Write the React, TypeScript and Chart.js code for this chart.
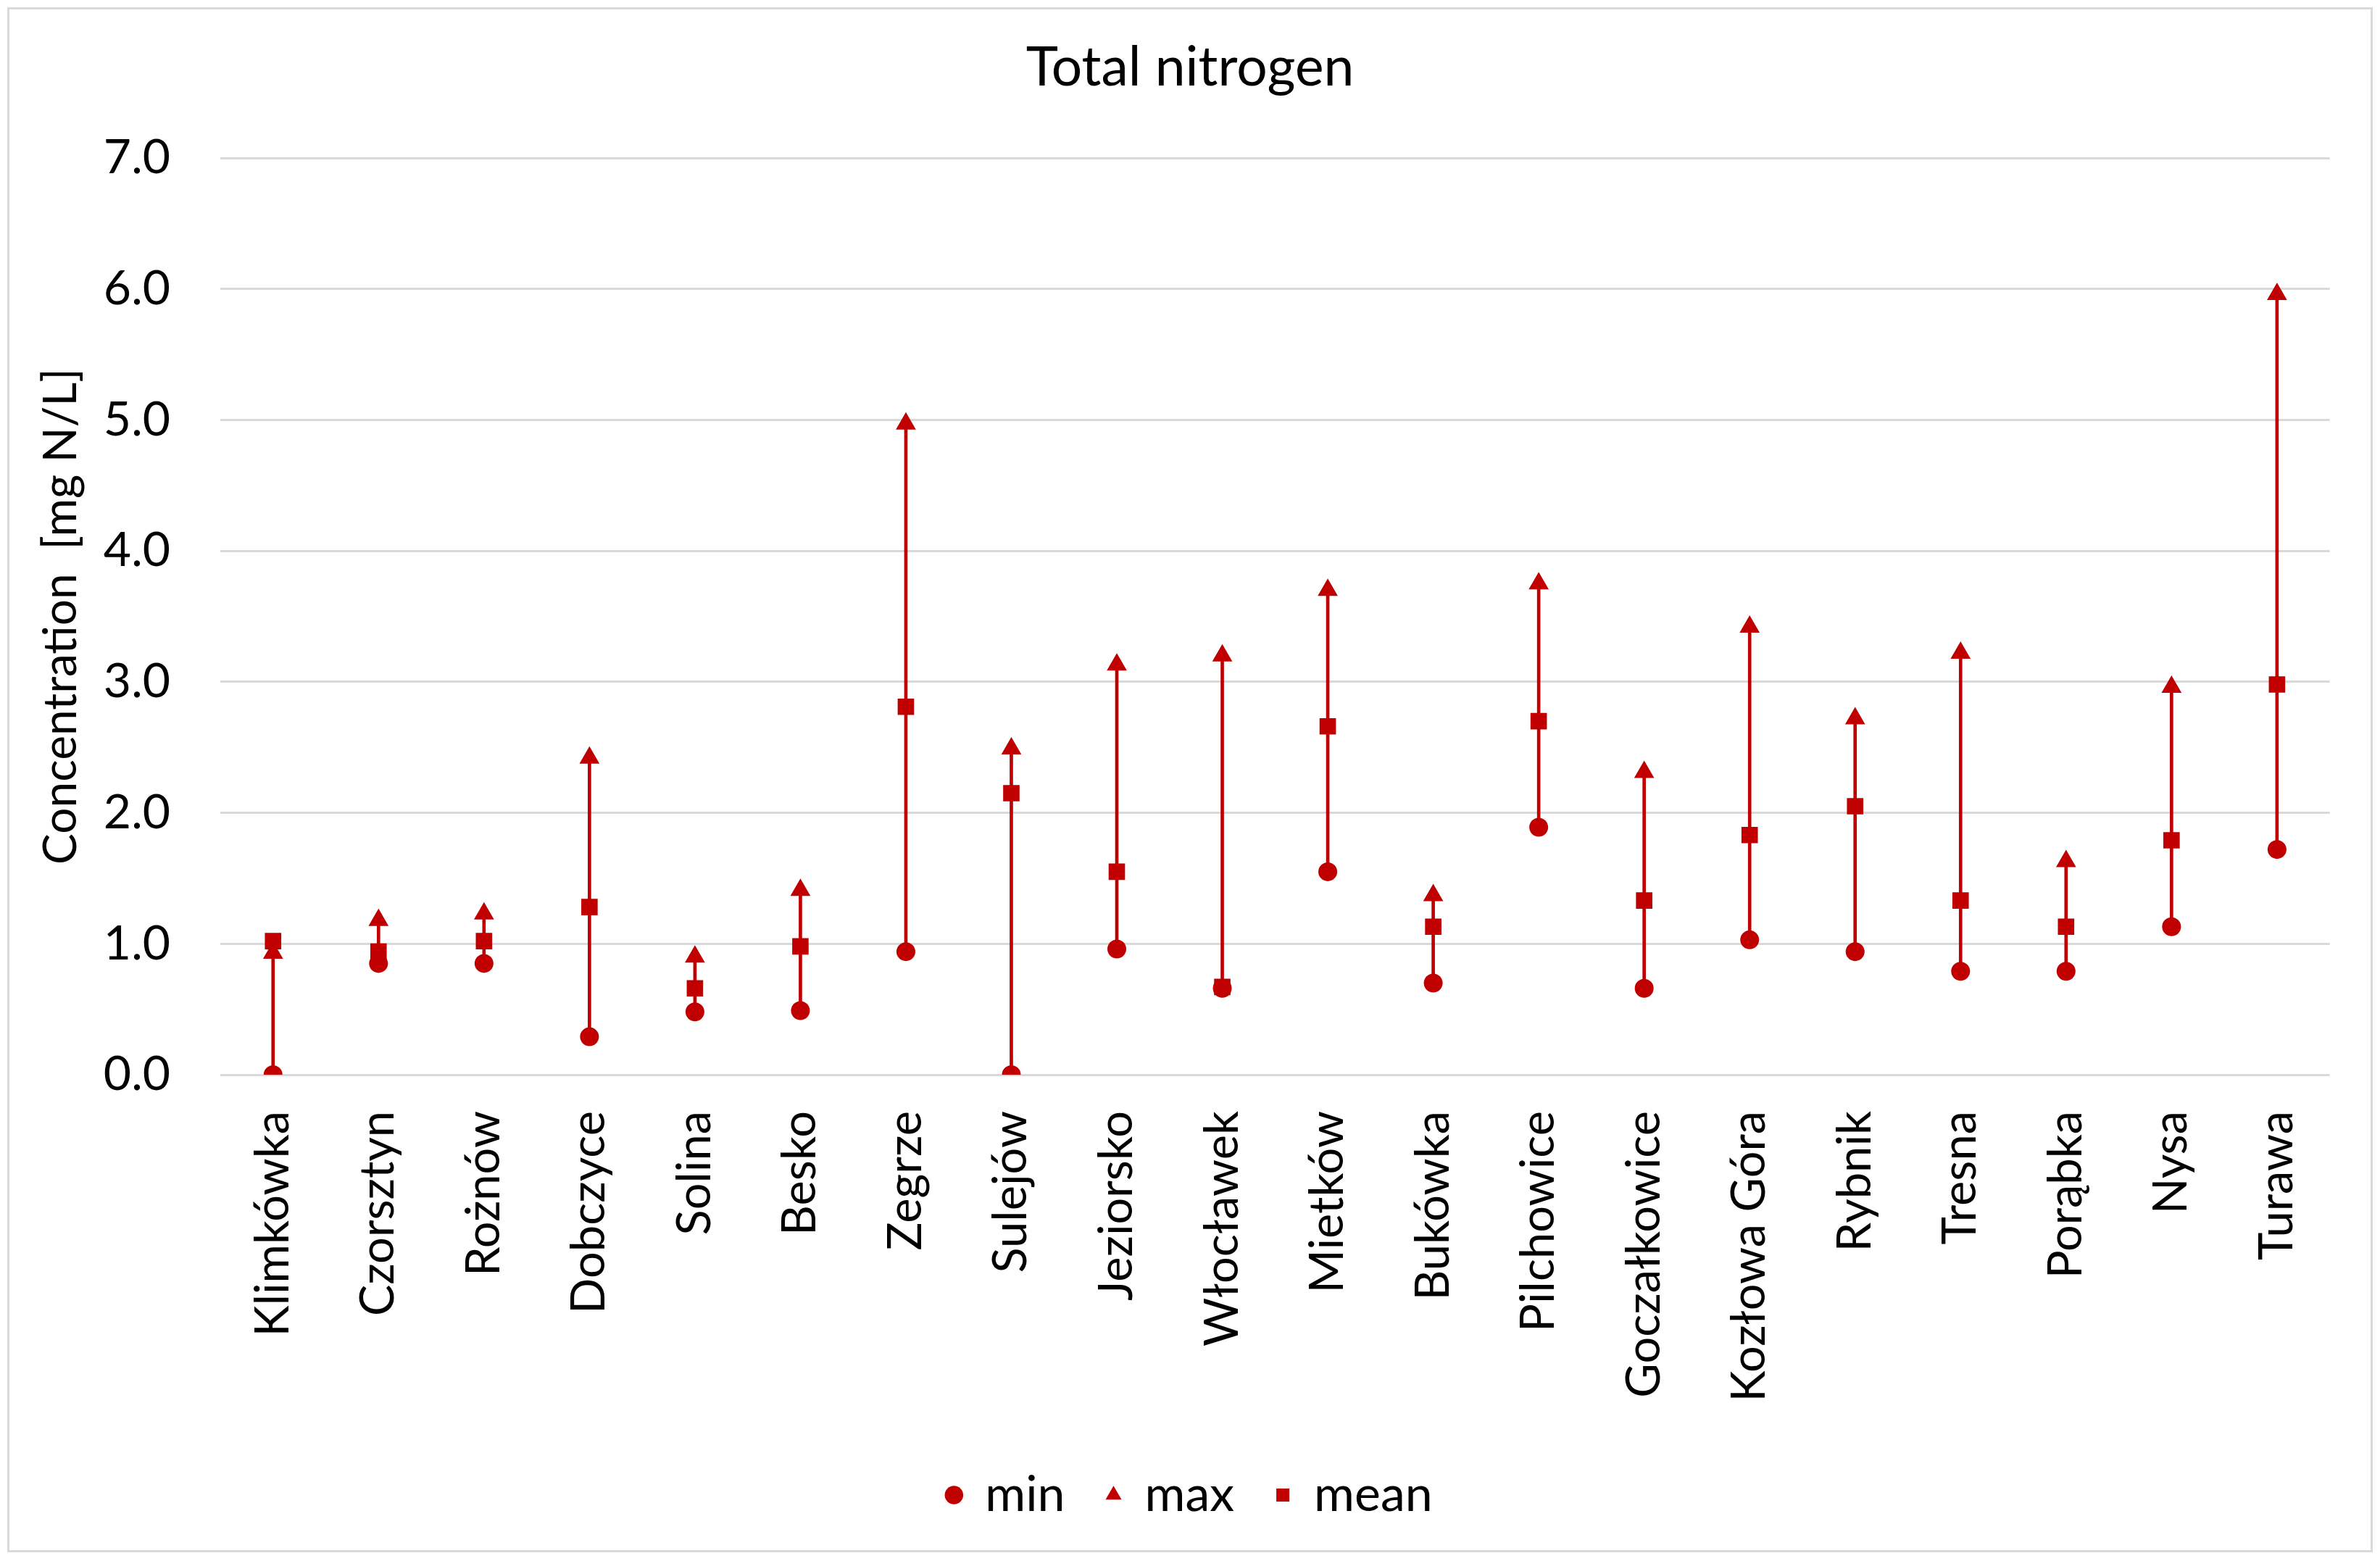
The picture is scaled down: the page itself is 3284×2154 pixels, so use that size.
import React, { useEffect, useRef } from "react";
import { Chart, registerables } from "chart.js";

Chart.register(...registerables);

const categories = [
  "Klimkówka", "Czorsztyn", "Rożnów", "Dobczyce", "Solina", "Besko", "Zegrze",
  "Sulejów", "Jeziorsko", "Włocławek", "Mietków", "Bukówka", "Pilchowice",
  "Goczałkowice", "Kozłowa Góra", "Rybnik", "Tresna", "Porąbka", "Nysa", "Turawa",
];
const minVals = [0.0, 0.85, 0.85, 0.29, 0.48, 0.49, 0.94, 0.0, 0.96, 0.66, 1.55, 0.70, 1.89, 0.66, 1.03, 0.94, 0.79, 0.79, 1.13, 1.72];
const maxVals = [0.93, 1.18, 1.23, 2.42, 0.90, 1.41, 4.97, 2.49, 3.13, 3.20, 3.70, 1.37, 3.75, 2.31, 3.42, 2.72, 3.22, 1.63, 2.96, 5.96];
const meanVals = [1.02, 0.94, 1.02, 1.28, 0.66, 0.98, 2.81, 2.15, 1.55, 0.67, 2.66, 1.13, 2.70, 1.33, 1.83, 2.05, 1.33, 1.13, 1.79, 2.98];
const yTicks = [0, 1, 2, 3, 4, 5, 6, 7];

const RED = "#c00000";
const GRID = "#d9d9d9";
const FONT = "Lato";

export default function App() {
  const ref = useRef<HTMLCanvasElement | null>(null);

  useEffect(() => {
    if (!ref.current) return;
    Chart.defaults.font.family = FONT;
    Chart.defaults.color = "#000";
    const chart = new Chart(ref.current, {
      type: "bar",
      data: {
        labels: categories,
        datasets: [
          {
            type: "line",
            label: "min",
            data: minVals,
            showLine: false,
            pointStyle: "circle",
            pointRadius: 13,
            pointBackgroundColor: RED,
            pointBorderColor: RED,
            pointBorderWidth: 0,
            backgroundColor: RED,
            borderColor: RED,
            order: 1,
          },
          {
            type: "line",
            label: "max",
            data: maxVals,
            showLine: false,
            pointStyle: "triangle",
            pointRadius: 16,
            pointBackgroundColor: RED,
            pointBorderColor: RED,
            pointBorderWidth: 0,
            backgroundColor: RED,
            borderColor: RED,
            order: 1,
          },
          {
            type: "line",
            label: "mean",
            data: meanVals,
            showLine: false,
            pointStyle: "rect",
            pointRadius: 16,
            pointBackgroundColor: RED,
            pointBorderColor: RED,
            pointBorderWidth: 0,
            backgroundColor: RED,
            borderColor: RED,
            order: 1,
          },
          {
            type: "bar",
            label: "range",
            data: categories.map((_, i) => [minVals[i], maxVals[i]]) as any,
            backgroundColor: RED,
            borderWidth: 0,
            barThickness: 4,
            order: 10,
          },
        ],
      },
      options: {
        animation: false,
        responsive: true,
        maintainAspectRatio: false,
        layout: { padding: { left: 0, right: 0, top: 0, bottom: 32 } },
        plugins: {
          tooltip: { enabled: false },
          title: {
            display: true,
            text: "Total nitrogen",
            font: { size: 75, weight: "normal", family: FONT },
            color: "#000",
            padding: { top: 36, bottom: 79 },
          },
          legend: {
            position: "bottom",
            labels: {
              usePointStyle: true,
              boxWidth: 18,
              boxHeight: 18,
              padding: 58,
              font: { size: 68, family: FONT },
              color: "#000",
              filter: (item) => item.text !== "range",
            },
          },
        },
        scales: {
          x: {
            type: "category",
            offset: true,
            grid: { display: false, drawTicks: false },
            border: { display: false },
            ticks: {
              autoSkip: false,
              minRotation: 90,
              maxRotation: 90,
              padding: 50,
              font: { size: 65, family: FONT },
              color: "#000",
            },
            afterFit: (scale: any) => {
              scale.height = 488;
            },
          },
          y: {
            type: "linear",
            position: "left",
            min: 0,
            max: 7,
            afterBuildTicks: (scale: any) => {
              scale.ticks = yTicks.map((v) => ({ value: v }));
            },
            grid: { color: GRID, lineWidth: 3, drawTicks: false },
            border: { display: false },
            ticks: {
              padding: 69,
              font: { size: 66, family: FONT },
              color: "#000",
              callback: (v: any) => Number(v).toFixed(1),
            },
            title: {
              display: true,
              text: "Concentration  [mg N/L]",
              font: { size: 64, family: FONT },
              color: "#000",
              padding: { top: 33, bottom: 0 },
            },
            afterFit: (scale: any) => {
              scale.width = 291;
            },
          },
          yRight: {
            type: "linear",
            position: "right",
            display: true,
            grid: { display: false, drawTicks: false },
            border: { display: false },
            ticks: { display: false },
            afterFit: (scale: any) => {
              scale.width = 45;
            },
          },
        },
      },
    });
    return () => chart.destroy();
  }, []);

  return (
    <div
      style={{
        width: 3264,
        height: 2132,
        margin: 2,
        border: "3px solid #d9d9d9",
        boxSizing: "border-box",
        background: "#fff",
      }}
    >
      <div style={{ position: "relative", width: 3258, height: 2126 }}>
        <canvas ref={ref} />
      </div>
    </div>
  );
}
